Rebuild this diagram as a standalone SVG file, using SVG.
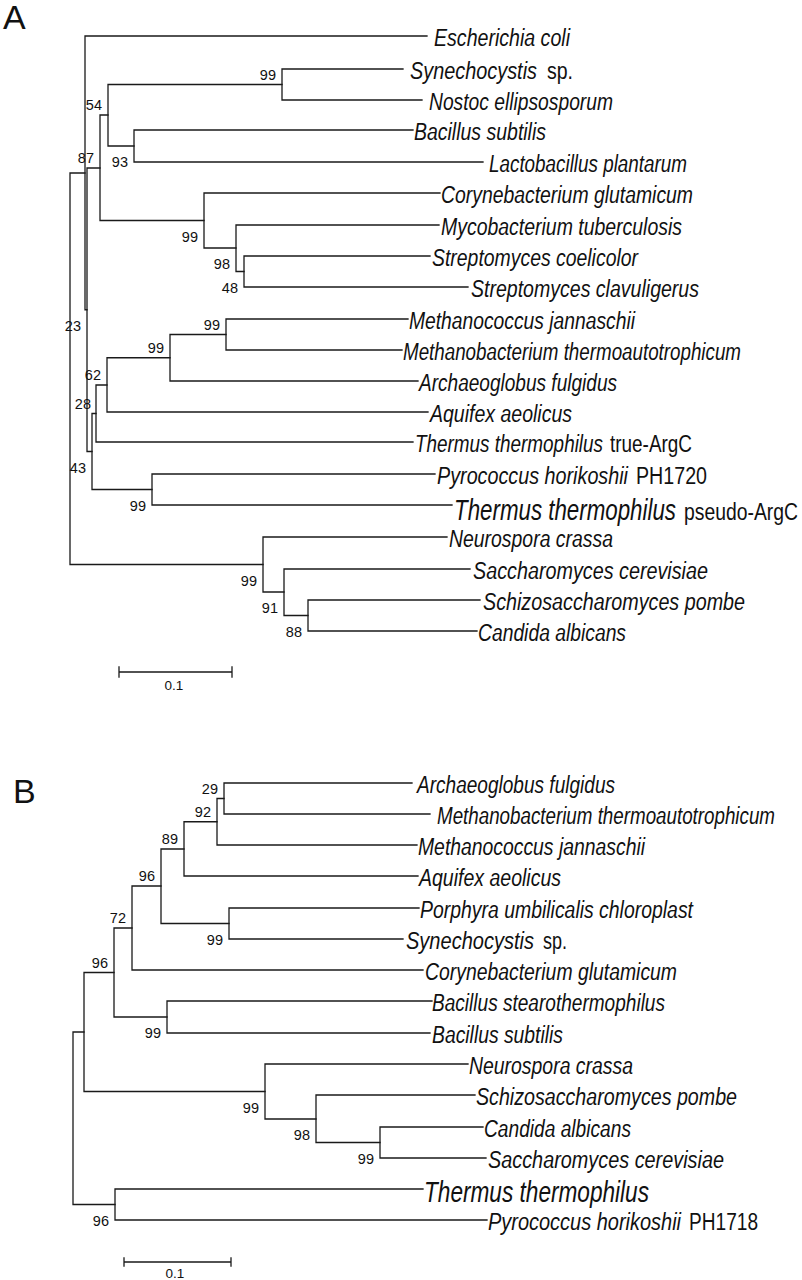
<svg xmlns="http://www.w3.org/2000/svg" width="802" height="1280" viewBox="0 0 802 1280">
<style>
.br{fill:none;stroke:#1a1a1a;stroke-width:1.3;stroke-linecap:square}
.t{font-family:"Liberation Sans",Arial,sans-serif;font-size:23px;fill:#111}
.i{font-style:italic}
.big{font-size:30px}
.bs{font-family:"Liberation Sans",Arial,sans-serif;font-size:14.5px;fill:#111;text-anchor:end}
.sc{font-family:"Liberation Sans",Arial,sans-serif;font-size:13.5px;fill:#111;text-anchor:middle}
.pl{font-family:"Liberation Sans",Arial,sans-serif;font-size:34px;fill:#111}
</style>
<rect width="802" height="1280" fill="#fff"/>
<text class="pl" x="3" y="29">A</text>
<text class="pl" x="13" y="803">B</text>
<g id="connectors">
<g id="treeA">
<path class="br" d="M70,173V564.5M70,173H85M70,564.5H263"/>
<path class="br" d="M85,36V309.75M85,36H427M85,309.75H87"/>
<path class="br" d="M87,168V451.5M87,168H100M87,451.5H92"/>
<path class="br" d="M100,115V220.5M100,115H108M100,220.5H204"/>
<path class="br" d="M108,84.5V146M108,84.5H282M108,146H134"/>
<path class="br" d="M282,69V100M282,69H403M282,100H422"/>
<path class="br" d="M134,130V162M134,130H413M134,162H483"/>
<path class="br" d="M204,193V248M204,193H440M204,248H236"/>
<path class="br" d="M236,225V271.5M236,225H439M236,271.5H244"/>
<path class="br" d="M244,256V287M244,256H430M244,287H468"/>
<path class="br" d="M92,413.5V489.5M92,413.5H96M92,489.5H152"/>
<path class="br" d="M96,385V442M96,385H107M96,442H413"/>
<path class="br" d="M107,357.75V412M107,357.75H170M107,412H428"/>
<path class="br" d="M170,334.5V381M170,334.5H226M170,381H418"/>
<path class="br" d="M226,319V350M226,319H408M226,350H402"/>
<path class="br" d="M152,474V505M152,474H435M152,505H452"/>
<path class="br" d="M263,537V592M263,537H447M263,592H284"/>
<path class="br" d="M284,569V615.5M284,569H470M284,615.5H308"/>
<path class="br" d="M308,600V631M308,600H480M308,631H477"/>
</g>
<g id="treeB">
<path class="br" d="M73,1032V1204.5M73,1032H84M73,1204.5H115"/>
<path class="br" d="M84,972.5V1091.5M84,972.5H114M84,1091.5H265"/>
<path class="br" d="M114,928V1017M114,928H132M114,1017H167"/>
<path class="br" d="M132,886V970M132,886H161M132,970H423"/>
<path class="br" d="M161,849V923.5M161,849H184M161,923.5H229"/>
<path class="br" d="M184,821.75V876M184,821.75H217M184,876H418"/>
<path class="br" d="M217,798.5V845M217,798.5H224M217,845H417"/>
<path class="br" d="M224,783V814M224,783H412M224,814H430"/>
<path class="br" d="M229,908V939M229,908H419M229,939H403"/>
<path class="br" d="M167,1001V1033M167,1001H432M167,1033H430"/>
<path class="br" d="M265,1064V1119M265,1064H468M265,1119H316"/>
<path class="br" d="M316,1095V1142.5M316,1095H475M316,1142.5H380"/>
<path class="br" d="M380,1127V1158M380,1127H483M380,1158H486"/>
<path class="br" d="M115,1189V1220M115,1189H423M115,1220H487"/>
</g>
<g id="scalebars">
<path class="br" d="M119,672H232M119,667V677M232,667V677"/>
<path class="br" d="M124,1262H231M124,1258V1266M231,1258V1266"/>
</g>
</g>
<text class="sc" x="174" y="690">0.1</text>
<text class="sc" x="175" y="1278">0.1</text>
<g id="bootstrapA">
<g id="bA_syn"><text class="bs" x="276" y="79.5">99</text></g>
<g id="bA_93"><text class="bs" x="128" y="167">93</text></g>
<g id="bA_54"><text class="bs" x="102" y="110">54</text></g>
<g id="bA_87"><text class="bs" x="94" y="163">87</text></g>
<g id="bA_act"><text class="bs" x="198" y="241.5">99</text></g>
<g id="bA_98"><text class="bs" x="230" y="269">98</text></g>
<g id="bA_48"><text class="bs" x="238" y="292.5">48</text></g>
<g id="bA_mj"><text class="bs" x="220" y="329.5">99</text></g>
<g id="bA_arch"><text class="bs" x="164" y="352.75">99</text></g>
<g id="bA_62"><text class="bs" x="101" y="380">62</text></g>
<g id="bA_28"><text class="bs" x="91" y="408.5">28</text></g>
<g id="bA_43"><text class="bs" x="86" y="472.5">43</text></g>
<g id="bA_23"><text class="bs" x="81" y="330.75">23</text></g>
<g id="bA_pyro"><text class="bs" x="146" y="510.5">99</text></g>
<g id="bA_fungi"><text class="bs" x="257" y="585.5">99</text></g>
<g id="bA_91"><text class="bs" x="278" y="613">91</text></g>
<g id="bA_88"><text class="bs" x="302" y="636.5">88</text></g>
</g>
<g id="bootstrapB">
<g id="bB_29"><text class="bs" x="218" y="793.5">29</text></g>
<g id="bB_92"><text class="bs" x="211" y="816.75">92</text></g>
<g id="bB_89"><text class="bs" x="178" y="844">89</text></g>
<g id="bB_96a"><text class="bs" x="155" y="881">96</text></g>
<g id="bB_por"><text class="bs" x="223" y="944.5">99</text></g>
<g id="bB_72"><text class="bs" x="126" y="923">72</text></g>
<g id="bB_96b"><text class="bs" x="108" y="967.5">96</text></g>
<g id="bB_bac"><text class="bs" x="161" y="1038">99</text></g>
<g id="bB_fun"><text class="bs" x="259" y="1112.5">99</text></g>
<g id="bB_98"><text class="bs" x="310" y="1140">98</text></g>
<g id="bB_sc"><text class="bs" x="374" y="1163.5">99</text></g>
<g id="bB_th"><text class="bs" x="109" y="1225.5">96</text></g>
</g>
<g id="leavesA">
<g id="A_ecoli"><text class="t i" x="434" y="46" textLength="136" lengthAdjust="spacingAndGlyphs">Escherichia coli</text></g>
<g id="A_syn"><text class="t i" x="410" y="79" textLength="127" lengthAdjust="spacingAndGlyphs">Synechocystis</text><text class="t" x="547" y="79" textLength="26" lengthAdjust="spacingAndGlyphs">sp.</text></g>
<g id="A_nostoc"><text class="t i" x="429" y="110" textLength="184" lengthAdjust="spacingAndGlyphs">Nostoc ellipsosporum</text></g>
<g id="A_bsub"><text class="t i" x="414" y="140" textLength="132" lengthAdjust="spacingAndGlyphs">Bacillus subtilis</text></g>
<g id="A_lacto"><text class="t i" x="489" y="172" textLength="198" lengthAdjust="spacingAndGlyphs">Lactobacillus plantarum</text></g>
<g id="A_coryne"><text class="t i" x="441" y="203" textLength="252" lengthAdjust="spacingAndGlyphs">Corynebacterium glutamicum</text></g>
<g id="A_myco"><text class="t i" x="441" y="235" textLength="241" lengthAdjust="spacingAndGlyphs">Mycobacterium tuberculosis</text></g>
<g id="A_scoel"><text class="t i" x="432" y="266" textLength="206" lengthAdjust="spacingAndGlyphs">Streptomyces coelicolor</text></g>
<g id="A_sclav"><text class="t i" x="471" y="297" textLength="228" lengthAdjust="spacingAndGlyphs">Streptomyces clavuligerus</text></g>
<g id="A_mjann"><text class="t i" x="409" y="329" textLength="226" lengthAdjust="spacingAndGlyphs">Methanococcus jannaschii</text></g>
<g id="A_mtherm"><text class="t i" x="403" y="360" textLength="338" lengthAdjust="spacingAndGlyphs">Methanobacterium thermoautotrophicum</text></g>
<g id="A_archaeo"><text class="t i" x="419" y="391" textLength="198" lengthAdjust="spacingAndGlyphs">Archaeoglobus fulgidus</text></g>
<g id="A_aquifex"><text class="t i" x="430" y="422" textLength="142" lengthAdjust="spacingAndGlyphs">Aquifex aeolicus</text></g>
<g id="A_ttrue"><text class="t i" x="415" y="452" textLength="188" lengthAdjust="spacingAndGlyphs">Thermus thermophilus</text><text class="t" x="610" y="452" textLength="82" lengthAdjust="spacingAndGlyphs">true-ArgC</text></g>
<g id="A_pyro"><text class="t i" x="437" y="484" textLength="191" lengthAdjust="spacingAndGlyphs">Pyrococcus horikoshii</text><text class="t" x="636" y="484" textLength="71" lengthAdjust="spacingAndGlyphs">PH1720</text></g>
<g id="A_tpseudo"><text class="t i big" x="454" y="520" textLength="222" lengthAdjust="spacingAndGlyphs">Thermus thermophilus</text><text class="t" x="684" y="520" textLength="114" lengthAdjust="spacingAndGlyphs">pseudo-ArgC</text></g>
<g id="A_neuro"><text class="t i" x="449" y="547" textLength="164" lengthAdjust="spacingAndGlyphs">Neurospora crassa</text></g>
<g id="A_sacch"><text class="t i" x="473" y="579" textLength="235" lengthAdjust="spacingAndGlyphs">Saccharomyces cerevisiae</text></g>
<g id="A_schizo"><text class="t i" x="483" y="610" textLength="262" lengthAdjust="spacingAndGlyphs">Schizosaccharomyces pombe</text></g>
<g id="A_candida"><text class="t i" x="478" y="641" textLength="148" lengthAdjust="spacingAndGlyphs">Candida albicans</text></g>
</g>
<g id="leavesB">
<g id="B_archaeo"><text class="t i" x="417" y="793" textLength="198" lengthAdjust="spacingAndGlyphs">Archaeoglobus fulgidus</text></g>
<g id="B_mtherm"><text class="t i" x="437" y="824" textLength="338" lengthAdjust="spacingAndGlyphs">Methanobacterium thermoautotrophicum</text></g>
<g id="B_mjann"><text class="t i" x="418" y="855" textLength="227" lengthAdjust="spacingAndGlyphs">Methanococcus jannaschii</text></g>
<g id="B_aquifex"><text class="t i" x="419" y="886" textLength="142" lengthAdjust="spacingAndGlyphs">Aquifex aeolicus</text></g>
<g id="B_porphyra"><text class="t i" x="420" y="918" textLength="273" lengthAdjust="spacingAndGlyphs">Porphyra umbilicalis chloroplast</text></g>
<g id="B_syn"><text class="t i" x="406" y="949" textLength="128" lengthAdjust="spacingAndGlyphs">Synechocystis</text><text class="t" x="543" y="949" textLength="24" lengthAdjust="spacingAndGlyphs">sp.</text></g>
<g id="B_coryne"><text class="t i" x="425" y="980" textLength="252" lengthAdjust="spacingAndGlyphs">Corynebacterium glutamicum</text></g>
<g id="B_bstearo"><text class="t i" x="432" y="1011" textLength="233" lengthAdjust="spacingAndGlyphs">Bacillus stearothermophilus</text></g>
<g id="B_bsub"><text class="t i" x="432" y="1043" textLength="131" lengthAdjust="spacingAndGlyphs">Bacillus subtilis</text></g>
<g id="B_neuro"><text class="t i" x="469" y="1074" textLength="164" lengthAdjust="spacingAndGlyphs">Neurospora crassa</text></g>
<g id="B_schizo"><text class="t i" x="476" y="1105" textLength="261" lengthAdjust="spacingAndGlyphs">Schizosaccharomyces pombe</text></g>
<g id="B_candida"><text class="t i" x="484" y="1137" textLength="147" lengthAdjust="spacingAndGlyphs">Candida albicans</text></g>
<g id="B_sacch"><text class="t i" x="488" y="1168" textLength="236" lengthAdjust="spacingAndGlyphs">Saccharomyces cerevisiae</text></g>
<g id="B_thermus"><text class="t i big" x="424" y="1202" textLength="225" lengthAdjust="spacingAndGlyphs">Thermus thermophilus</text></g>
<g id="B_pyro"><text class="t i" x="488" y="1230" textLength="193" lengthAdjust="spacingAndGlyphs">Pyrococcus horikoshii</text><text class="t" x="689" y="1230" textLength="69" lengthAdjust="spacingAndGlyphs">PH1718</text></g>
</g>
</svg>
